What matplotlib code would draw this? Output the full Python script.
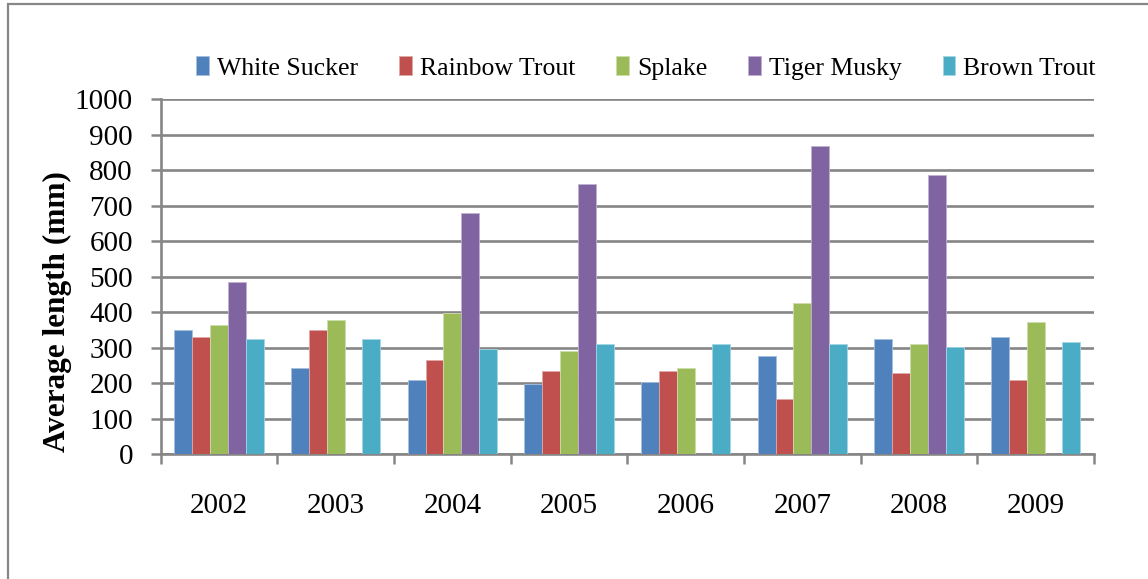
import matplotlib
matplotlib.use("Agg")
import matplotlib.pyplot as plt
import numpy as np
from matplotlib.patches import Rectangle

years = ["2002", "2003", "2004", "2005", "2006", "2007", "2008", "2009"]
series_names = ["White Sucker", "Rainbow Trout", "Splake", "Tiger Musky", "Brown Trout"]
white_sucker = [350, 243, 209, 198, 202, 276, 324, 330]
rainbow_trout = [330, 350, 264, 235, 235, 155, 229, 209]
splake = [363, 378, 398, 290, 243, 425, 310, 371]
tiger_musky = [485, 0, 680, 760, 0, 868, 787, 0]
brown_trout = [324, 324, 297, 310, 310, 310, 303, 316]
y_ticks = [0, 100, 200, 300, 400, 500, 600, 700, 800, 900, 1000]

colors = ["#4F81BD", "#C0504D", "#9BBB59", "#8064A2", "#4BACC6"]
edges = ["#A7C0DE", "#DFA7A6", "#CDDDAC", "#BFB1D0", "#A5D5E2"]
grid_gray = "#868686"

plt.rcParams['font.family'] = ['Liberation Serif', 'DejaVu Serif']

fig = plt.figure(figsize=(11.48, 5.79), dpi=100)
W, H = 1148, 579
ax = fig.add_axes([160.7 / W, 1 - 454 / H, (1094 - 160.7) / W, (454 - 99.3) / H])

# outer chart border (top and left visible)
fig.patches.append(Rectangle((8 / W, -0.1), 1.2, 1 - 4 / H + 0.1, transform=fig.transFigure,
                             fill=False, edgecolor=grid_gray, linewidth=1.6, zorder=0))

data = [white_sucker, rainbow_trout, splake, tiger_musky, brown_trout]
x = np.arange(len(years))
bw = 0.153
for i, (name, vals) in enumerate(zip(series_names, data)):
    offs = (i - 2) * bw
    ax.bar(x + offs, vals, width=bw, color=colors[i], edgecolor=edges[i],
           linewidth=0.6, label=name, zorder=3)

ax.set_xlim(-0.5, len(years) - 0.5)
ax.set_ylim(0, 1000)
ax.set_yticks(y_ticks)
ax.set_yticklabels([str(v) for v in y_ticks])
ax.yaxis.grid(True, color=grid_gray, linewidth=1.9, zorder=0)
ax.set_axisbelow(True)

# x: major ticks at boundaries, labels at centers
ax.set_xticks(np.arange(-0.5, len(years), 1.0))
ax.set_xticklabels([])
ax.set_xticks(x, minor=True)
ax.set_xticklabels(years, minor=True)
ax.tick_params(axis='x', which='major', direction='out', length=7, width=1.8, color=grid_gray)
ax.tick_params(axis='x', which='minor', length=0, pad=28, labelsize=21)
ax.tick_params(axis='y', direction='out', length=7, width=1.8, color=grid_gray, pad=13, labelsize=21)

for s in ['top', 'right']:
    ax.spines[s].set_visible(False)
for s in ['left', 'bottom']:
    ax.spines[s].set_color(grid_gray)
    ax.spines[s].set_linewidth(1.9)

fig.text(57 / W, 1 - 312 / H, "Average length (mm)", rotation=90, fontsize=22.5,
         fontweight='bold', ha='center', va='center')

leg = fig.legend(loc='center', bbox_to_anchor=(646 / W, 1 - 68 / H), ncol=5, frameon=False,
                 fontsize=18.5, handlelength=0.5, handleheight=0.75, handletextpad=0.3,
                 columnspacing=1.6, borderaxespad=0)

fig.savefig("out.png", dpi=100)
